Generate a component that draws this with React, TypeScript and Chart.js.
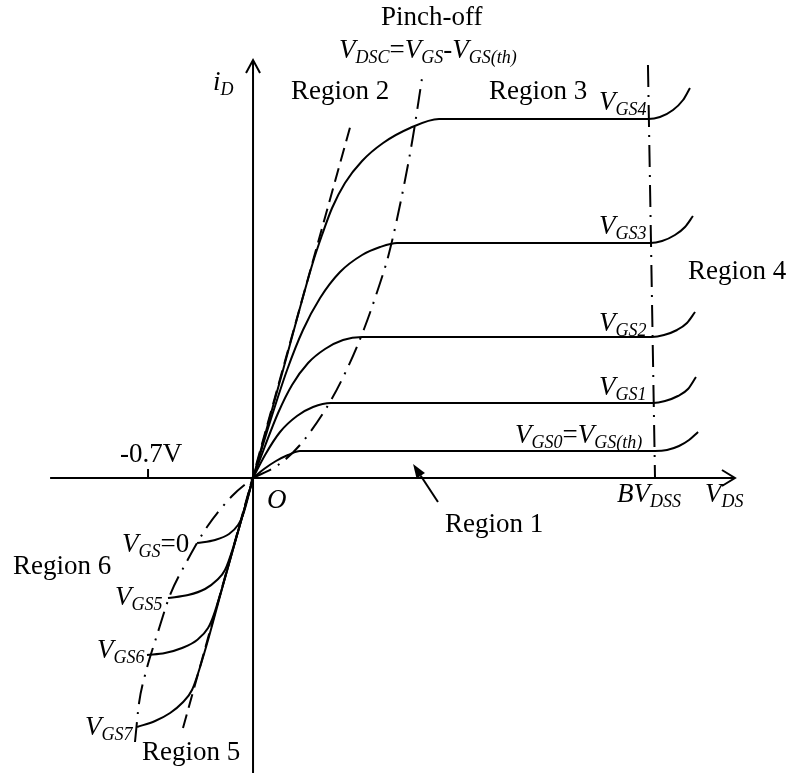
import { useEffect, useRef } from 'react';
import { Chart, registerables } from 'chart.js';

Chart.register(...registerables);

// ---- Output characteristics (v_DS in volts, i_D in relative units) ----
// First quadrant: one curve per gate voltage, ohmic rise -> saturation -> avalanche
const VGS0_V = [0, 0.073, 0.153, 0.233, 0.313, 2.68, 2.76, 2.84, 2.907, 2.967];
const VGS0_I = [0, 0.09, 0.17, 0.23, 0.27, 0.27, 0.28, 0.32, 0.38, 0.46];

const VGS1_V = [0, 0.08, 0.18, 0.293, 0.4, 0.52, 2.667, 2.747, 2.833, 2.9, 2.953];
const VGS1_I = [0, 0.23, 0.46, 0.62, 0.71, 0.75, 0.75, 0.77, 0.82, 0.89, 1.01];

const VGS2_V = [0, 0.08, 0.167, 0.26, 0.367, 0.48, 0.6, 0.727, 2.66, 2.74, 2.827, 2.893, 2.947];
const VGS2_I = [0, 0.32, 0.65, 0.93, 1.15, 1.29, 1.38, 1.41, 1.41, 1.43, 1.48, 1.55, 1.66];

const VGS3_V = [0, 0.113, 0.227, 0.333, 0.447, 0.58, 0.727, 0.847, 0.96, 2.647, 2.727, 2.813, 2.88, 2.933];
const VGS3_I = [0, 0.56, 1.08, 1.48, 1.8, 2.06, 2.23, 2.31, 2.35, 2.35, 2.37, 2.43, 2.51, 2.62];

const VGS4_V = [0, 0.2, 0.4, 0.46, 0.527, 0.613, 0.727, 0.867, 1.047, 1.24, 2.633, 2.713, 2.8, 2.867, 2.913];
const VGS4_I = [0, 1.08, 2.16, 2.43, 2.7, 2.95, 3.17, 3.35, 3.5, 3.59, 3.59, 3.61, 3.68, 3.78, 3.9];

// Third quadrant: reverse conduction for V_GS = 0 and V_GS5..V_GS7
const RVGS0_V = [-0.373, -0.253, -0.16, -0.1, -0.067, 0];
const RVGS0_I = [-0.65, -0.62, -0.56, -0.47, -0.37, 0];

const VGS5_V = [-0.567, -0.433, -0.32, -0.24, -0.187, -0.127, 0];
const VGS5_I = [-1.2, -1.17, -1.11, -1.02, -0.92, -0.67, 0];

const VGS6_V = [-0.707, -0.587, -0.473, -0.373, -0.3, -0.26, -0.127, 0];
const VGS6_I = [-1.77, -1.75, -1.7, -1.62, -1.5, -1.36, -0.68, 0];

const VGS7_V = [-0.773, -0.653, -0.553, -0.473, -0.407, -0.333, -0.187, 0];
const VGS7_I = [-2.49, -2.43, -2.35, -2.25, -2.12, -1.79, -1.0, 0];

// Boundary lines
const PINCH_V = [0, 0.167, 0.313, 0.513, 0.633, 0.74, 0.827, 0.907, 1.007, 1.067, 1.127];
const PINCH_I = [0, 0.13, 0.33, 0.76, 1.11, 1.49, 1.86, 2.25, 2.93, 3.42, 4.0];

const REGION6_V = [-0.787, -0.76, -0.72, -0.64, -0.553, -0.447, -0.307, -0.133, 0];
const REGION6_I = [-2.64, -2.25, -1.97, -1.57, -1.17, -0.85, -0.49, -0.17, 0];

const OHMIC_V = [-0.467, 0.653];
const OHMIC_I = [-2.5, 3.54];

const BVDSS_V = [2.633, 2.68];
const BVDSS_I = [4.13, 0];

// Axis ticks
const NEG_TICK = -0.7;

// ---- Drawing setup ----
const X_RANGE = { min: -1.687, max: 3.62 };
const Y_RANGE = { min: -2.95, max: 4.78 };
const AXIS_X_SPAN = [-1.353, 3.213];
const AXIS_Y_SPAN = [-2.95, 4.18];
const REGION1_ARROW = { from: [1.233, -0.24], to: [1.067, 0.14] };

const FONT = '"Liberation Serif", "Times New Roman", serif';
const MAIN = 27;
const SUB = 18;
const SUB_DROP = 5;

type Part = [string, 'r' | 'i' | 's'];
type Label = { at: [number, number]; parts: Part[] };

const LABELS: Label[] = [
  { at: [0.853, 4.53], parts: [['Pinch-off', 'r']] },
  {
    at: [0.573, 4.2],
    parts: [['V', 'i'], ['DSC', 's'], ['=', 'r'], ['V', 'i'], ['GS', 's'], ['-', 'r'], ['V', 'i'], ['GS(th)', 's']],
  },
  { at: [0.253, 3.79], parts: [['Region 2', 'r']] },
  { at: [1.573, 3.79], parts: [['Region 3', 'r']] },
  { at: [-0.267, 3.88], parts: [['i', 'i'], ['D', 's']] },
  { at: [2.307, 3.68], parts: [['V', 'i'], ['GS4', 's']] },
  { at: [2.307, 2.44], parts: [['V', 'i'], ['GS3', 's']] },
  { at: [2.307, 1.47], parts: [['V', 'i'], ['GS2', 's']] },
  { at: [2.307, 0.83], parts: [['V', 'i'], ['GS1', 's']] },
  { at: [1.747, 0.35], parts: [['V', 'i'], ['GS0', 's'], ['=', 'r'], ['V', 'i'], ['GS(th)', 's']] },
  { at: [2.9, 1.99], parts: [['Region 4', 'r']] },
  { at: [-0.887, 0.16], parts: [['-0.7V', 'r']] },
  { at: [0.093, -0.3], parts: [['O', 'i']] },
  { at: [2.427, -0.24], parts: [['BV', 'i'], ['DSS', 's']] },
  { at: [3.013, -0.24], parts: [['V', 'i'], ['DS', 's']] },
  { at: [1.28, -0.54], parts: [['Region 1', 'r']] },
  { at: [-0.873, -0.74], parts: [['V', 'i'], ['GS', 's'], ['=0', 'r']] },
  { at: [-1.6, -0.96], parts: [['Region 6', 'r']] },
  { at: [-0.92, -1.27], parts: [['V', 'i'], ['GS5', 's']] },
  { at: [-1.04, -1.8], parts: [['V', 'i'], ['GS6', 's']] },
  { at: [-1.12, -2.57], parts: [['V', 'i'], ['GS7', 's']] },
  { at: [-0.74, -2.82], parts: [['Region 5', 'r']] },
];

const pts = (xs: number[], ys: number[]) => xs.map((x, i) => ({ x, y: ys[i] }));

const curve = (xs: number[], ys: number[]) => ({
  data: pts(xs, ys),
  borderColor: '#000',
  borderWidth: 2,
  pointRadius: 0,
  fill: false,
  cubicInterpolationMode: 'monotone' as const,
  order: 0,
});

const guide = (xs: number[], ys: number[], dash: number[], smooth: boolean) => ({
  data: pts(xs, ys),
  borderColor: '#000',
  borderWidth: 2,
  pointRadius: 0,
  fill: false,
  borderDash: dash,
  borderCapStyle: 'butt' as const,
  tension: 0,
  ...(smooth ? { cubicInterpolationMode: 'monotone' as const } : {}),
  order: 1,
});

function drawRich(ctx: CanvasRenderingContext2D, parts: Part[], x: number, y: number) {
  let cx = x;
  for (const [t, k] of parts) {
    if (k === 's') {
      ctx.font = `italic ${SUB}px ${FONT}`;
      ctx.fillText(t, cx, y + SUB_DROP);
    } else {
      ctx.font = `${k === 'i' ? 'italic ' : ''}${MAIN}px ${FONT}`;
      ctx.fillText(t, cx, y);
    }
    cx += ctx.measureText(t).width;
  }
}

const schematicPlugin = {
  id: 'schematic',
  afterDatasetsDraw(chart: Chart) {
    const { ctx } = chart;
    const sx = chart.scales.x;
    const sy = chart.scales.y;
    const px = (v: number) => sx.getPixelForValue(v);
    const py = (v: number) => sy.getPixelForValue(v);
    const ox = px(0);
    const oy = py(0);

    ctx.save();
    ctx.strokeStyle = '#000';
    ctx.fillStyle = '#000';
    ctx.lineWidth = 2;
    ctx.setLineDash([]);
    ctx.lineCap = 'butt';

    // v_DS axis with open arrowhead
    const xEnd = px(AXIS_X_SPAN[1]);
    ctx.beginPath();
    ctx.moveTo(px(AXIS_X_SPAN[0]), oy);
    ctx.lineTo(xEnd, oy);
    ctx.moveTo(xEnd - 13, oy - 8);
    ctx.lineTo(xEnd, oy);
    ctx.lineTo(xEnd - 13, oy + 8);
    ctx.stroke();

    // i_D axis with open arrowhead
    const yEnd = py(AXIS_Y_SPAN[1]);
    ctx.beginPath();
    ctx.moveTo(ox, py(AXIS_Y_SPAN[0]));
    ctx.lineTo(ox, yEnd);
    ctx.moveTo(ox - 7, yEnd + 13);
    ctx.lineTo(ox, yEnd);
    ctx.lineTo(ox + 7, yEnd + 13);
    ctx.stroke();

    // -0.7 V tick
    ctx.beginPath();
    ctx.moveTo(px(NEG_TICK), oy);
    ctx.lineTo(px(NEG_TICK), oy - 9);
    ctx.stroke();

    // Region 1 pointer
    const ax0 = px(REGION1_ARROW.from[0]);
    const ay0 = py(REGION1_ARROW.from[1]);
    const ax1 = px(REGION1_ARROW.to[0]);
    const ay1 = py(REGION1_ARROW.to[1]);
    const ang = Math.atan2(ay1 - ay0, ax1 - ax0);
    const hl = 14;
    const hw = 5;
    const bx = ax1 - hl * Math.cos(ang);
    const by = ay1 - hl * Math.sin(ang);
    ctx.beginPath();
    ctx.moveTo(ax0, ay0);
    ctx.lineTo(bx, by);
    ctx.stroke();
    ctx.beginPath();
    ctx.moveTo(ax1, ay1);
    ctx.lineTo(bx + hw * Math.sin(ang), by - hw * Math.cos(ang));
    ctx.lineTo(bx - hw * Math.sin(ang), by + hw * Math.cos(ang));
    ctx.closePath();
    ctx.fill();

    // Labels
    ctx.textBaseline = 'alphabetic';
    ctx.textAlign = 'left';
    for (const l of LABELS) {
      drawRich(ctx, l.parts, px(l.at[0]), py(l.at[1]));
    }
    ctx.restore();
  },
};

export default function App() {
  const canvasRef = useRef<HTMLCanvasElement | null>(null);

  useEffect(() => {
    const canvas = canvasRef.current;
    if (!canvas) return;
    const chart = new Chart(canvas, {
      type: 'line',
      data: {
        datasets: [
          curve(VGS0_V, VGS0_I),
          curve(VGS1_V, VGS1_I),
          curve(VGS2_V, VGS2_I),
          curve(VGS3_V, VGS3_I),
          curve(VGS4_V, VGS4_I),
          curve(RVGS0_V, RVGS0_I),
          curve(VGS5_V, VGS5_I),
          curve(VGS6_V, VGS6_I),
          curve(VGS7_V, VGS7_I),
          guide(PINCH_V, PINCH_I, [20, 8, 2, 8], true),
          guide(REGION6_V, REGION6_I, [20, 8, 2, 8], true),
          guide(OHMIC_V, OHMIC_I, [14, 7], false),
          guide(BVDSS_V, BVDSS_I, [22, 8, 2, 8], false),
        ] as any,
      },
      options: {
        responsive: false,
        animation: false,
        devicePixelRatio: 1,
        layout: { padding: 0 },
        plugins: {
          legend: { display: false },
          tooltip: { enabled: false },
        },
        scales: {
          x: { type: 'linear', min: X_RANGE.min, max: X_RANGE.max, display: false },
          y: { type: 'linear', min: Y_RANGE.min, max: Y_RANGE.max, display: false },
        },
      },
      plugins: [schematicPlugin],
    });
    return () => chart.destroy();
  }, []);

  return (
    <div style={{ position: 'absolute', left: 0, top: 0, width: 796, height: 773, background: '#fff' }}>
      <canvas ref={canvasRef} width={796} height={773} style={{ display: 'block' }} />
    </div>
  );
}
